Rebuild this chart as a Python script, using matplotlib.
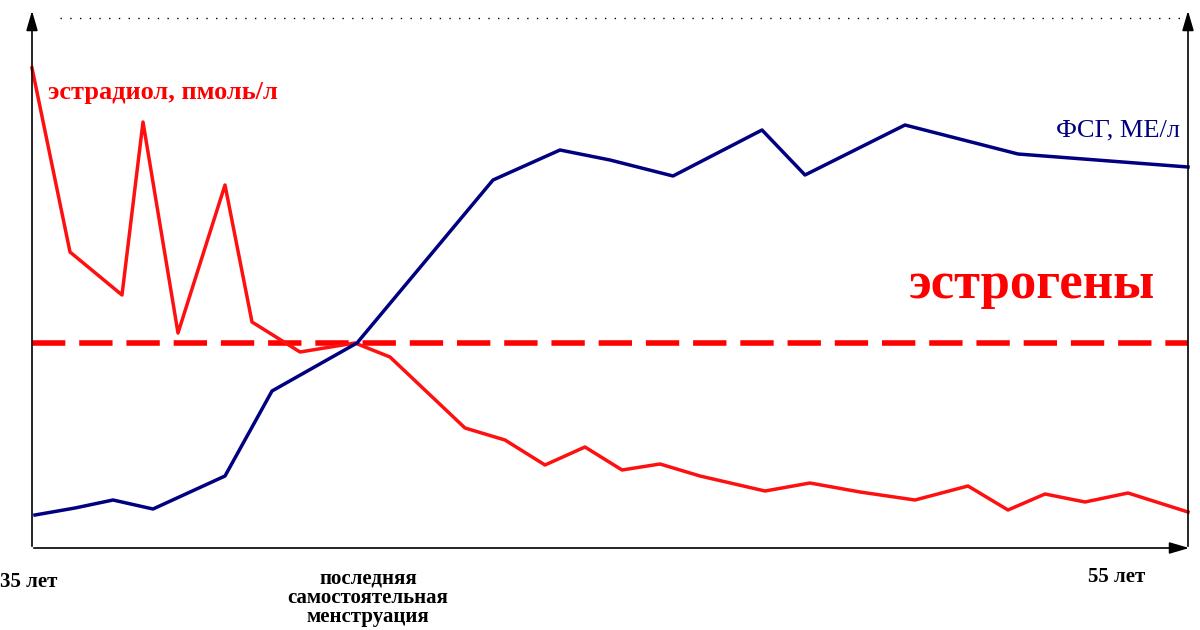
import matplotlib
matplotlib.use("Agg")
import matplotlib.pyplot as plt

# values, in picture units (x: 35..55 years across 32..1188, y: top-down)
red_x = [32, 70, 122, 143, 178, 225, 252, 300, 355, 390, 465, 505, 545, 585, 622, 660, 700, 765,
         810, 860, 915, 968, 1008, 1045, 1085, 1128, 1188]
red_y = [68, 252, 295, 122, 333, 185, 322, 352, 343, 357, 428, 440, 465, 447, 470, 464, 476, 491,
         483, 492, 500, 486, 510, 494, 502, 493, 512]
blue_x = [35, 75, 113, 153, 225, 272, 357, 493, 560, 610, 673, 762, 805, 905, 1018, 1188]
blue_y = [515, 508, 500, 509, 476, 391, 343, 180, 150, 160, 176, 130, 175, 125, 154, 167]
level = 343

plt.rcParams['font.family'] = ['Liberation Serif', 'DejaVu Serif']
fig = plt.figure(figsize=(12, 6.3), dpi=100)
ax = fig.add_axes([0, 0, 1, 1])
ax.set_xlim(0, 1200)
ax.set_ylim(630, 0)
ax.axis('off')

arrow = dict(arrowstyle='-|>,head_length=1.2,head_width=0.35', color='black', lw=1.2)
ax.annotate('', xy=(32, 8), xytext=(32, 549), arrowprops=arrow)
ax.annotate('', xy=(1192, 548), xytext=(31, 548), arrowprops=arrow)
ax.annotate('', xy=(1188, 8), xytext=(1188, 549), arrowprops=arrow)
ax.plot([60, 1180], [18, 18], color='black', lw=1, ls=(0, (1, 6)))

ax.plot([32, 1188], [level, level], color='#ff0000', lw=4, ls=(0, (6, 2.5)))
ax.plot(red_x, red_y, color='#ff1010', lw=2.5)
ax.plot(blue_x, blue_y, color='#000080', lw=2.5)

ax.text(48, 92, 'эстрадиол, пмоль/л', color='#ff0000', fontsize=19, fontweight='bold', va='center')
ax.text(1180, 130, 'ФСГ, МЕ/л', color='#000080', fontsize=19, va='center', ha='right')
ax.text(1155, 285, 'эстрогены', color='#ff0000', fontsize=38, fontweight='bold', va='center', ha='right')
ax.text(0, 582, '35 лет', fontsize=15, fontweight='bold', va='center')
ax.text(368, 598, 'последняя\nсамостоятельная\nменструация', fontsize=15, fontweight='bold',
        va='center', ha='center', linespacing=0.95)
ax.text(1145, 577, '55 лет', fontsize=15, fontweight='bold', va='center', ha='right')

fig.savefig('out.png')
